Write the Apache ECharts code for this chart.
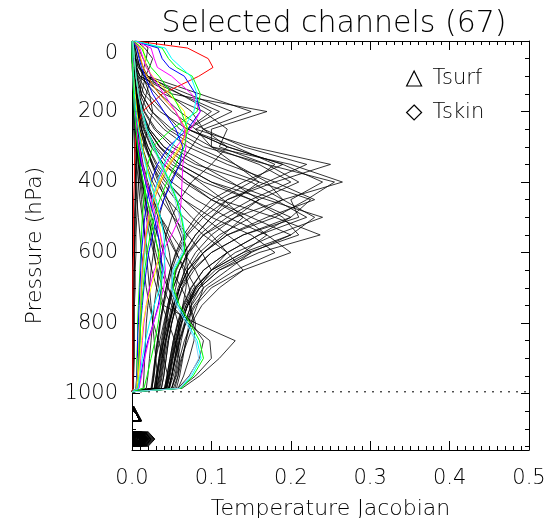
<!DOCTYPE html>
<html>
<head>
<meta charset="utf-8">
<script src="https://cdn.jsdelivr.net/npm/echarts@6/dist/echarts.min.js"></script>
<style>
  html, body { margin: 0; padding: 0; background: #fff; }
  #chart { width: 554px; height: 518px; }
</style>
</head>
<body>
<div id="chart"></div>
<script>
// pressure levels (hPa) shared by every channel profile
var levels = [0, 20, 50, 75, 100, 150, 200, 250, 300, 350, 400, 450, 500, 550, 600, 650, 700, 750, 800, 850, 900, 950, 985, 995];

// coloured channels
var colourNames = ['#ff0000', '#00ff00', '#0000ff', '#ff00ff', '#ffff00', '#00ffff', '#ff8c00', '#ff00ff', '#0000ff',
  '#00ff00', '#ffff00', '#0000ff', '#ff00ff', '#00ffff', '#00ff00', '#00ffff', '#00ff00', '#87cefa'];
var colourProfiles = [
  [0.004,0.07,0.096,0.102,0.084,0.038, 0.013,0.006,0.004,0.003,0.003,0.002, 0.002,0.002,0.002,0.001,0.001,0.001, 0.001,0.001,0.001,0.001,0.001,0],
  [0.004,0.038,0.046,0.056,0.076,0.086, 0.082,0.05,0.026,0.02,0.017,0.015, 0.013,0.012,0.011,0.01,0.009,0.008, 0.007,0.007,0.006,0.006,0.005,0],
  [0.003,0.033,0.038,0.047,0.066,0.08, 0.086,0.07,0.046,0.032,0.024,0.019, 0.016,0.014,0.012,0.011,0.01,0.009, 0.008,0.007,0.007,0.006,0.005,0],
  [0.003,0.024,0.028,0.032,0.05,0.075, 0.086,0.074,0.056,0.042,0.032,0.025, 0.02,0.017,0.015,0.013,0.012,0.011, 0.01,0.009,0.008,0.007,0.006,0],
  [0.002,0.014,0.016,0.018,0.026,0.047, 0.066,0.07,0.06,0.046,0.034,0.026, 0.021,0.018,0.016,0.014,0.012,0.011, 0.01,0.009,0.008,0.007,0.006,0],
  [0.003,0.042,0.05,0.062,0.074,0.082, 0.078,0.064,0.05,0.04,0.032,0.026, 0.022,0.019,0.016,0.014,0.012,0.011, 0.01,0.009,0.008,0.007,0.006,0],
  [0.001,0.008,0.011,0.014,0.019,0.034, 0.055,0.068,0.062,0.048,0.036,0.028, 0.022,0.018,0.015,0.013,0.012,0.011, 0.01,0.009,0.008,0.007,0.006,0],
  [0.002,0.01,0.014,0.018,0.025,0.04, 0.055,0.066,0.068,0.064,0.063,0.062, 0.06,0.05,0.038,0.028,0.022,0.018, 0.015,0.013,0.011,0.01,0.008,0],
  [0.001,0.006,0.009,0.012,0.016,0.026, 0.04,0.055,0.064,0.06,0.05,0.04, 0.032,0.026,0.021,0.018,0.015,0.013, 0.011,0.01,0.009,0.008,0.006,0],
  [0.002,0.012,0.018,0.024,0.034,0.05, 0.062,0.07,0.066,0.055,0.044,0.035, 0.028,0.023,0.019,0.016,0.014,0.012, 0.011,0.01,0.009,0.008,0.007,0],
  [0,0.001,0.001,0.002,0.002,0.004, 0.006,0.009,0.013,0.018,0.024,0.03, 0.034,0.036,0.035,0.03,0.024,0.018, 0.014,0.012,0.01,0.008,0.006,0],
  [0,0,0.001,0.001,0.001,0.002, 0.003,0.005,0.008,0.012,0.017,0.022, 0.028,0.033,0.036,0.038,0.037,0.033, 0.027,0.02,0.015,0.011,0.008,0],
  [0,0,0.001,0.001,0.001,0.002, 0.004,0.006,0.009,0.013,0.018,0.024, 0.03,0.036,0.04,0.042,0.04,0.034, 0.027,0.021,0.016,0.012,0.009,0],
  [0,0.001,0.001,0.001,0.002,0.003, 0.005,0.008,0.012,0.017,0.023,0.03, 0.036,0.04,0.042,0.04,0.035,0.028, 0.022,0.017,0.013,0.01,0.008,0],
  [0,0,0,0.001,0.001,0.002, 0.003,0.005,0.007,0.01,0.014,0.019, 0.024,0.029,0.033,0.036,0.037,0.036, 0.033,0.029,0.024,0.019,0.015,0],
  [0.001,0.002,0.003,0.004,0.005,0.008, 0.013,0.019,0.028,0.038,0.048,0.057, 0.063,0.067,0.065,0.052,0.05,0.058, 0.07,0.082,0.087,0.075,0.061,0],
  [0.001,0.002,0.003,0.004,0.005,0.008, 0.012,0.018,0.027,0.037,0.047,0.056, 0.062,0.066,0.066,0.054,0.052,0.06, 0.073,0.085,0.09,0.077,0.062,0],
  [0.001,0.002,0.003,0.004,0.005,0.008, 0.012,0.018,0.026,0.036,0.046,0.054, 0.06,0.064,0.063,0.051,0.049,0.056, 0.068,0.08,0.084,0.073,0.06,0]
];

// black channels
var blackProfiles = [
  [0.001,0.002,0.003,0.005,0.008,0.02, 0.04,0.06,0.1,0.2,0.265,0.19, 0.13,0.09,0.07,0.06,0.055,0.05, 0.045,0.04,0.035,0.03,0.028,0],
  [0.001,0.002,0.004,0.006,0.01,0.03, 0.05,0.08,0.15,0.25,0.18,0.12, 0.1,0.08,0.065,0.055,0.05,0.045, 0.04,0.035,0.03,0.028,0.025,0],
  [0.001,0.002,0.003,0.004,0.007,0.015, 0.035,0.07,0.12,0.19,0.24,0.2, 0.21,0.14,0.1,0.075,0.06,0.052, 0.046,0.04,0.036,0.032,0.03,0],
  [0.001,0.001,0.002,0.003,0.005,0.01, 0.02,0.04,0.07,0.12,0.18,0.23, 0.17,0.12,0.09,0.07,0.06,0.052, 0.047,0.042,0.038,0.035,0.032,0],
  [0.001,0.003,0.005,0.008,0.02,0.085, 0.15,0.09,0.14,0.22,0.17,0.12, 0.09,0.07,0.058,0.05,0.045,0.04, 0.036,0.033,0.03,0.027,0.025,0],
  [0.001,0.002,0.004,0.008,0.015,0.07, 0.126,0.08,0.1,0.16,0.2,0.15, 0.11,0.085,0.07,0.06,0.052,0.046, 0.042,0.038,0.034,0.031,0.028,0],
  [0.001,0.001,0.002,0.002,0.003,0.006, 0.012,0.02,0.035,0.06,0.1,0.17, 0.24,0.18,0.13,0.1,0.08,0.068, 0.06,0.054,0.05,0.046,0.042,0],
  [0.001,0.001,0.001,0.002,0.003,0.005, 0.009,0.015,0.025,0.04,0.07,0.11, 0.18,0.237,0.16,0.11,0.085,0.07, 0.062,0.056,0.051,0.047,0.043,0],
  [0.001,0.001,0.002,0.002,0.003,0.005, 0.01,0.018,0.03,0.05,0.09,0.15, 0.19,0.21,0.146,0.105,0.082,0.07, 0.062,0.056,0.052,0.048,0.044,0],
  [0.001,0.001,0.002,0.003,0.004,0.007, 0.013,0.022,0.04,0.07,0.12,0.18, 0.22,0.16,0.12,0.09,0.074,0.064, 0.057,0.052,0.048,0.044,0.041,0],
  [0.001,0.001,0.001,0.002,0.002,0.004, 0.007,0.012,0.02,0.032,0.05,0.08, 0.12,0.17,0.2,0.14,0.1,0.08, 0.068,0.06,0.055,0.05,0.046,0],
  [0.001,0.002,0.003,0.004,0.006,0.012, 0.025,0.045,0.08,0.13,0.17,0.19, 0.15,0.11,0.085,0.07,0.06,0.053, 0.048,0.043,0.039,0.036,0.033,0],
  [0.001,0.002,0.004,0.006,0.01,0.06, 0.11,0.07,0.13,0.18,0.15,0.11, 0.085,0.068,0.056,0.048,0.043,0.039, 0.035,0.032,0.029,0.027,0.025,0],
  [0.001,0.002,0.003,0.005,0.01,0.05, 0.17,0.1,0.1,0.13,0.16,0.13, 0.1,0.08,0.066,0.056,0.05,0.045, 0.041,0.037,0.034,0.031,0.029,0],
  [0.001,0.001,0.002,0.002,0.003,0.006, 0.011,0.02,0.035,0.06,0.1,0.15, 0.2,0.16,0.12,0.09,0.075,0.065, 0.058,0.053,0.049,0.045,0.042,0],
  [0.001,0.001,0.001,0.002,0.003,0.005, 0.009,0.016,0.028,0.045,0.07,0.1, 0.14,0.17,0.14,0.1,0.08,0.068, 0.06,0.055,0.05,0.046,0.043,0],
  [0.001,0.001,0.001,0.002,0.002,0.004, 0.007,0.012,0.02,0.03,0.045,0.065, 0.09,0.12,0.15,0.12,0.09,0.075, 0.066,0.059,0.054,0.05,0.046,0],
  [0.001,0.001,0.001,0.001,0.002,0.003, 0.005,0.008,0.013,0.02,0.03,0.045, 0.065,0.09,0.12,0.14,0.11,0.088, 0.075,0.066,0.06,0.055,0.05,0],
  [0.001,0.001,0.001,0.002,0.002,0.004, 0.006,0.01,0.016,0.025,0.038,0.055, 0.075,0.1,0.12,0.1,0.08,0.07, 0.063,0.058,0.054,0.05,0.047,0],
  [0.001,0.001,0.001,0.001,0.002,0.003, 0.005,0.008,0.012,0.018,0.026,0.037, 0.052,0.07,0.088,0.1,0.085,0.074, 0.067,0.062,0.058,0.054,0.05,0],
  [0,0.001,0.001,0.001,0.001,0.002, 0.003,0.005,0.008,0.012,0.018,0.026, 0.036,0.05,0.065,0.08,0.09,0.082, 0.074,0.068,0.063,0.058,0.054,0],
  [0,0,0.001,0.001,0.001,0.002, 0.003,0.005,0.007,0.01,0.013,0.017, 0.021,0.025,0.028,0.031,0.034,0.04, 0.08,0.13,0.11,0.085,0.063,0],
  [0,0,0.001,0.001,0.001,0.002, 0.003,0.004,0.006,0.008,0.011,0.014, 0.018,0.022,0.027,0.032,0.038,0.05, 0.07,0.098,0.1,0.08,0.06,0],
  [0,0,0,0.001,0.001,0.002, 0.003,0.004,0.006,0.009,0.012,0.016, 0.02,0.025,0.03,0.036,0.045,0.058, 0.075,0.09,0.085,0.072,0.058,0],
  [0,0,0,0.001,0.001,0.002, 0.003,0.005,0.007,0.01,0.014,0.019, 0.025,0.032,0.04,0.05,0.062,0.073, 0.08,0.078,0.072,0.065,0.058,0],
  [0,0.001,0.001,0.001,0.002,0.003, 0.005,0.007,0.01,0.014,0.02,0.027, 0.036,0.046,0.056,0.065,0.072,0.075, 0.072,0.068,0.064,0.06,0.056,0],
  [0.001,0.001,0.001,0.002,0.003,0.005, 0.008,0.012,0.018,0.025,0.033,0.042, 0.052,0.061,0.068,0.07,0.068,0.064, 0.06,0.057,0.054,0.05,0.047,0],
  [0.001,0.002,0.003,0.004,0.006,0.012, 0.025,0.05,0.09,0.17,0.255,0.22, 0.18,0.12,0.09,0.07,0.06,0.053, 0.047,0.042,0.038,0.034,0.031,0],
  [0.001,0.001,0.002,0.003,0.004,0.008, 0.016,0.03,0.055,0.1,0.16,0.225, 0.2,0.14,0.1,0.078,0.064,0.056, 0.05,0.045,0.041,0.038,0.035,0],
  [0.001,0.001,0.002,0.002,0.003,0.006, 0.012,0.022,0.04,0.08,0.15,0.19, 0.23,0.2,0.14,0.1,0.078,0.066, 0.058,0.052,0.048,0.044,0.041,0],
  [0.001,0.001,0.001,0.002,0.002,0.004, 0.008,0.014,0.024,0.04,0.065,0.1, 0.15,0.2,0.15,0.11,0.085,0.07, 0.062,0.056,0.051,0.047,0.044,0],
  [0.001,0.001,0.001,0.001,0.002,0.003, 0.006,0.01,0.017,0.027,0.042,0.065, 0.1,0.15,0.18,0.13,0.095,0.078, 0.067,0.06,0.055,0.05,0.046,0],
  [0.001,0.002,0.003,0.004,0.007,0.04, 0.09,0.12,0.11,0.17,0.21,0.16, 0.12,0.09,0.072,0.06,0.052,0.047, 0.043,0.039,0.035,0.032,0.03,0],
  [0.001,0.002,0.005,0.01,0.02,0.06, 0.1,0.07,0.12,0.19,0.14,0.1, 0.08,0.065,0.055,0.048,0.043,0.039, 0.035,0.032,0.029,0.026,0.024,0],
  [0.002,0.004,0.007,0.01,0.016,0.035, 0.06,0.09,0.12,0.1,0.075,0.06, 0.05,0.043,0.038,0.034,0.031,0.028, 0.026,0.024,0.022,0.02,0.018,0],
  [0.003,0.006,0.01,0.014,0.02,0.045, 0.075,0.09,0.075,0.06,0.048,0.04, 0.034,0.03,0.027,0.024,0.022,0.02, 0.018,0.017,0.016,0.015,0.014,0],
  [0.001,0.001,0.002,0.003,0.004,0.008, 0.015,0.028,0.05,0.085,0.125,0.16, 0.13,0.1,0.08,0.067,0.058,0.052, 0.047,0.043,0.04,0.037,0.034,0],
  [0.001,0.001,0.002,0.002,0.003,0.006, 0.011,0.02,0.034,0.055,0.085,0.115, 0.14,0.115,0.09,0.074,0.063,0.056, 0.05,0.046,0.043,0.04,0.037,0],
  [0.012,0.02,0.018,0.015,0.012,0.01, 0.008,0.007,0.006,0.005,0.005,0.004, 0.004,0.003,0.003,0.003,0.002,0.002, 0.002,0.002,0.002,0.001,0.001,0],
  [0.006,0.016,0.026,0.022,0.017,0.012, 0.009,0.007,0.006,0.005,0.004,0.004, 0.003,0.003,0.003,0.002,0.002,0.002, 0.002,0.002,0.001,0.001,0.001,0],
  [0.002,0.008,0.014,0.02,0.024,0.018, 0.012,0.009,0.007,0.006,0.005,0.005, 0.004,0.004,0.003,0.003,0.003,0.002, 0.002,0.002,0.002,0.002,0.001,0],
  [0.001,0.004,0.007,0.01,0.014,0.022, 0.026,0.02,0.014,0.01,0.008,0.007, 0.006,0.005,0.005,0.004,0.004,0.003, 0.003,0.003,0.003,0.002,0.002,0],
  [0,0.001,0.001,0.001,0.002,0.003, 0.004,0.005,0.006,0.008,0.01,0.012, 0.014,0.016,0.018,0.02,0.022,0.024, 0.026,0.028,0.03,0.032,0.03,0],
  [0,0,0,0,0.001,0.001, 0.002,0.002,0.003,0.004,0.005,0.006, 0.008,0.01,0.012,0.015,0.018,0.022, 0.027,0.033,0.04,0.045,0.042,0],
  [0,0,0,0.001,0.001,0.001, 0.002,0.003,0.004,0.006,0.008,0.01, 0.013,0.016,0.02,0.025,0.031,0.038, 0.046,0.054,0.06,0.058,0.052,0],
  [0.001,0.001,0.001,0.002,0.002,0.004, 0.006,0.009,0.013,0.018,0.024,0.03, 0.036,0.042,0.047,0.05,0.05,0.047, 0.043,0.04,0.037,0.034,0.031,0],
  [0.001,0.001,0.002,0.002,0.003,0.005, 0.008,0.012,0.018,0.026,0.035,0.045, 0.055,0.064,0.07,0.066,0.06,0.055, 0.05,0.046,0.043,0.04,0.037,0],
  [0,0,0.001,0.001,0.001,0.002, 0.003,0.005,0.007,0.01,0.013,0.017, 0.022,0.028,0.034,0.04,0.046,0.052, 0.058,0.06,0.057,0.052,0.047,0],
  [0,0.001,0.001,0.001,0.002,0.003, 0.004,0.006,0.009,0.013,0.018,0.025, 0.033,0.043,0.055,0.068,0.08,0.072, 0.078,0.07,0.062,0.056,0.05,0]
];

// surface jacobians, one per channel (67)
var tsurf = [0,0,0,0.001,0,0,0,0.001,0,0,
  0.002,0,0,0,0,0.001,0,0,0,0,
  0,0,0.001,0,0,0,0,0,0.001,0,
  0,0,0,0,0,0.002,0,0,0,0,
  0,0,0,0.001,0,0,0,0,0,0,
  0,0,0,0.001,0,0,0,0,0,0,
  0,0,0,0,0,0.001,0];
var tskin = [0.002,0.004,0.006,0.001,0.008,0.003,0.012,0.005,0.002,0.009,
  0.015,0.004,0.007,0.001,0.011,0.006,0.003,0.018,0.008,0.002,
  0.005,0.013,0.004,0.009,0.001,0.007,0.016,0.003,0.006,0.01,
  0.002,0.008,0.014,0.005,0.019,0.004,0.007,0.001,0.011,0.006,
  0.003,0.009,0.012,0.005,0.002,0.017,0.008,0.004,0.006,0.01,
  0.001,0.013,0.007,0.003,0.009,0.005,0.015,0.002,0.008,0.004,
  0.011,0.006,0.003,0.01,0.007,0.02,0.005];
var tsurfLevel = 1058;   // pressure where the Tsurf marks are drawn
var tskinLevel = 1129;   // pressure where the Tskin marks are drawn
var surfaceLevel = 995;  // dotted surface line

var fontFamily = 'DejaVu Sans';
var textColour = '#000';

function profileSeries(values, colour, opacity, z) {
  var pts = [];
  for (var i = 0; i < levels.length; i++) pts.push([values[i], levels[i]]);
  return {
    type: 'line', data: pts, symbol: 'none', silent: true, z: z,
    lineStyle: { color: colour, width: 1, opacity: opacity }
  };
}

function markerSeries(name, values, level, shape) {
  var pts = values.map(function (v) { return [v, level]; });
  return {
    name: name, type: 'custom', data: pts, clip: true, z: 5, silent: true,
    encode: { x: 0, y: 1 },
    renderItem: function (params, api) {
      var c = api.coord([api.value(0), api.value(1)]);
      var poly = shape === 'triangle'
        ? [[c[0], c[1] - 8], [c[0] + 8, c[1] + 7], [c[0] - 8, c[1] + 7]]
        : [[c[0], c[1] - 7.5], [c[0] + 7, c[1]], [c[0], c[1] + 7.5], [c[0] - 7, c[1]]];
      return { type: 'polygon', shape: { points: poly }, style: { fill: 'none', stroke: '#000', lineWidth: 1 } };
    }
  };
}

var series = [];
for (var i = 0; i < blackProfiles.length; i++) series.push(profileSeries(blackProfiles[i], '#000', 0.8, 2));
for (var i = 0; i < colourProfiles.length; i++) series.push(profileSeries(colourProfiles[i], colourNames[i], 1, 3));
series.push({
  type: 'line', data: [[0, surfaceLevel], [0.5, surfaceLevel]], symbol: 'none', silent: true, z: 1,
  lineStyle: { color: '#000', width: 1, type: [2, 6] }
});
series.push(markerSeries('Tsurf', tsurf, tsurfLevel, 'triangle'));
series.push(markerSeries('Tskin', tskin, tskinLevel, 'diamond'));

var tickStyle = { color: '#000', width: 1 };
function xAxisDef(pos, showLabels) {
  return {
    type: 'value', position: pos, min: 0, max: 0.5, interval: 0.1,
    axisLine: { show: true, onZero: false, lineStyle: tickStyle },
    axisTick: { show: true, inside: true, length: 9, lineStyle: tickStyle },
    minorTick: { show: true, splitNumber: 10, length: 4, lineStyle: tickStyle },
    splitLine: { show: false },
    axisLabel: { show: showLabels, margin: 18, fontSize: 21, fontWeight: 200, color: textColour, fontFamily: fontFamily,
      formatter: function (v) { return v.toFixed(1); } },
    name: showLabels ? 'Temperature Jacobian' : '', nameLocation: 'middle', nameGap: 48,
    nameTextStyle: { fontSize: 22, fontWeight: 200, color: textColour, fontFamily: fontFamily }
  };
}
function yAxisDef(pos, showLabels) {
  return {
    type: 'value', position: pos, inverse: true, min: 0, max: 1160, interval: 200,
    axisLine: { show: true, onZero: false, lineStyle: tickStyle },
    axisTick: { show: true, inside: true, length: 8, lineStyle: tickStyle },
    minorTick: { show: true, splitNumber: 4, length: 4, lineStyle: tickStyle },
    splitLine: { show: false },
    axisLabel: { show: showLabels, showMaxLabel: false, margin: 14, fontSize: 21, fontWeight: 200, color: textColour, fontFamily: fontFamily,
      formatter: function (v) { return v === 0 ? '{top|0}' : String(v); },
      rich: { top: { padding: [26, 0, 0, 0], fontSize: 21, fontWeight: 200, color: textColour, fontFamily: fontFamily } } },
    name: showLabels ? 'Pressure (hPa)' : '', nameLocation: 'middle', nameGap: 86,
    nameTextStyle: { fontSize: 22, fontWeight: 200, color: textColour, fontFamily: fontFamily }
  };
}

var chart = echarts.init(document.getElementById('chart'), null, { renderer: 'canvas' });
chart.setOption({
  animation: false,
  backgroundColor: '#fff',
  title: {
    text: 'Selected channels (67)', left: 329, top: 4, textAlign: 'center',
    textStyle: { fontSize: 30, fontWeight: 200, color: textColour, fontFamily: fontFamily }
  },
  legend: {
    orient: 'vertical', left: 401, top: 63, itemWidth: 15, itemHeight: 15, itemGap: 13, selectedMode: false,
    data: [{ name: 'Tsurf', icon: 'triangle' }, { name: 'Tskin', icon: 'diamond' }],
    itemStyle: { color: 'rgba(0,0,0,0)', borderColor: '#000', borderWidth: 1.2 },
    textStyle: { fontSize: 21, fontWeight: 200, color: textColour, fontFamily: fontFamily, padding: [0, 0, 0, 6] }
  },
  grid: { left: 132, right: 25, top: 41, bottom: 68, containLabel: false, outerBoundsMode: 'none' },
  xAxis: [xAxisDef('bottom', true), xAxisDef('top', false)],
  yAxis: [yAxisDef('left', true), yAxisDef('right', false)],
  series: series
});
</script>
</body>
</html>
